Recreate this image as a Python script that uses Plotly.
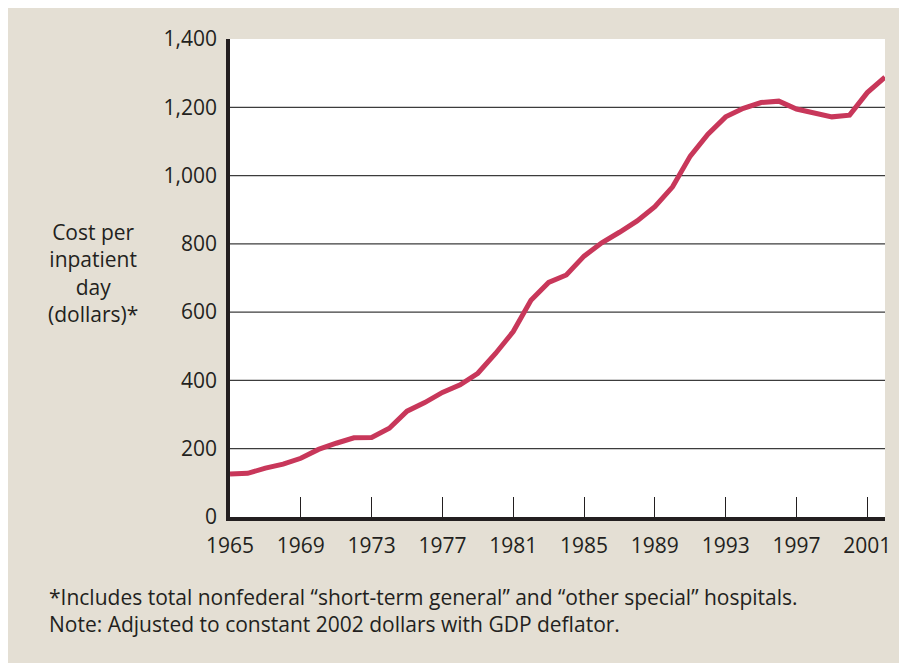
import plotly.graph_objects as go

years = list(range(1965, 2003))
cost = [126, 128, 143, 155, 172, 198, 216, 232, 233, 260,
        310, 335, 365, 387, 421, 479, 543, 635, 687, 709,
        764, 803, 834, 867, 909, 967, 1057, 1121, 1172, 1197,
        1214, 1218, 1195, 1185, 1172, 1177, 1243, 1288]
x_ticks = list(range(1965, 2002, 4))
y_ticks = [0, 200, 400, 600, 800, 1000, 1200, 1400]
grid_vals = [200, 400, 600, 800, 1000, 1200]

y_title = "Cost per<br>inpatient<br>day<br>(dollars)*"
notes = ("*Includes total nonfederal \u201cshort-term general\u201d and \u201cother special\u201d hospitals."
         "<br>Note: Adjusted to constant 2002 dollars with GDP deflator.")

BG = "#e4dfd4"
INK = "#231f20"
FONT = "Open Sans"

W, H = 899, 655
ML, MR, MT, MB = 222, 22, 31, 146
PW, PH = W - ML - MR, H - MT - MB

def px_x(ax):  # absolute page x -> paper x
    return (ax - 8 - ML) / PW

def px_y(ay):  # absolute page y -> paper y
    return 1 - (ay - 8 - MT) / PH

fig = go.Figure()
fig.add_trace(go.Scatter(x=years, y=cost, mode="lines",
                         line=dict(color="#c8375a", width=5), showlegend=False,
                         cliponaxis=False))

for g in grid_vals:
    fig.add_shape(type="line", xref="paper", yref="y", x0=0, x1=1, y0=g, y1=g,
                  line=dict(color="#3c3c3c", width=1.3), layer="below")

fig.update_layout(
    width=W, height=H,
    paper_bgcolor=BG, plot_bgcolor="white",
    margin=dict(l=ML, r=MR, t=MT, b=MB),
    font=dict(family=FONT, size=21, color=INK),
    xaxis=dict(range=[1965, 2002], tickvals=x_ticks, ticktext=[str(v) for v in x_ticks],
               showgrid=False, zeroline=False, showline=True, linewidth=3.5, linecolor=INK,
               ticks="inside", ticklen=20, tickwidth=1.2, tickcolor=INK, ticklabelstandoff=7,
               tickfont=dict(size=21, family=FONT, color=INK)),
    yaxis=dict(range=[0, 1400], tickvals=y_ticks, ticktext=[f"{v:,}" for v in y_ticks],
               showgrid=False, zeroline=False, showline=True, linewidth=3.5, linecolor=INK,
               ticks="", ticklabelstandoff=5,
               tickfont=dict(size=21, family=FONT, color=INK)),
)

fig.add_annotation(text=y_title, xref="paper", yref="paper",
                   x=px_x(93), y=px_y(273), xanchor="center", yanchor="middle", showarrow=False,
                   align="center", font=dict(size=21, family=FONT, color=INK))
fig.add_annotation(text=notes, xref="paper", yref="paper",
                   x=px_x(47), y=px_y(610), xanchor="left", yanchor="middle", showarrow=False,
                   align="left", font=dict(size=21, family=FONT, color=INK))

fig.write_html("out.html")
